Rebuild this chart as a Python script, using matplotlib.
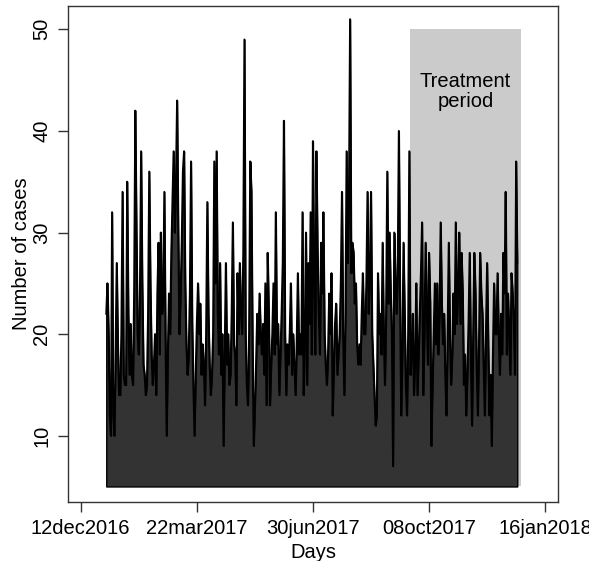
import numpy as np
import matplotlib
matplotlib.use("Agg")
import matplotlib.pyplot as plt
import matplotlib.dates as mdates

plt.rcParams['font.family'] = ['Liberation Sans', 'DejaVu Sans']

# Daily case counts, 03jan2017 onwards
start_date = "2017-01-03"
cases = [
    22, 25, 20, 12, 10, 32, 12, 10, 18,
    27, 19, 14, 14, 20, 34, 16, 15, 15,
    35, 22, 16, 21, 16, 15, 24, 42,
    30, 20, 18, 24, 38, 25, 17, 16,
    14, 15, 22, 36, 25, 18, 15, 17, 20,
    14, 24, 29, 18, 30, 22, 23, 34, 20,
    10, 18, 24, 20, 28, 33, 38, 30, 35,
    43, 30, 20, 24, 29, 36, 38, 25,
    19, 16, 18, 24, 37, 21, 15, 10, 16,
    21, 25, 20, 23, 16, 19, 17, 13, 20,
    33, 22, 17, 14, 16, 20, 37, 25,
    38, 22, 18, 27, 16, 20, 9, 18, 27,
    17, 20, 15, 16, 22, 31, 19, 18,
    13, 26, 20, 27, 22, 20, 28, 49, 20,
    15, 13, 20, 37, 34, 19, 9, 13,
    17, 22, 19, 24, 20, 18, 21, 16, 25,
    13, 28, 22, 13, 17, 20, 25, 18, 32,
    19, 21, 14, 18, 22, 27, 41, 20,
    14, 19, 17, 20, 25, 16, 20, 17, 14,
    19, 26, 18, 20, 18, 32, 14, 20, 30,
    15, 27, 21, 32, 18, 39, 25, 18,
    38, 28, 22, 18, 29, 24, 32, 20, 17,
    15, 18, 24, 20, 26, 12, 17, 21,
    23, 16, 18, 20, 25, 34, 20, 14, 22,
    38, 27, 33, 51, 26, 29, 28, 23, 25,
    19, 17, 19, 17, 22, 26, 20, 20,
    25, 34, 22, 26, 34, 20, 17, 14, 11,
    12, 26, 20, 22, 18, 29, 20, 15, 22,
    36, 23, 30, 24, 20, 7, 30, 26,
    22, 26, 40, 24, 12, 18, 29, 22, 15,
    12, 20, 38, 16, 18, 22, 14, 18, 25,
    14, 18, 22, 26, 31, 14, 20, 29,
    23, 17, 28, 23, 9, 15, 20, 25, 19,
    25, 18, 22, 31, 23, 19, 22, 16,
    12, 20, 29, 20, 15, 18, 24, 20, 31,
    21, 25, 30, 21, 28, 24, 15, 18, 12,
    16, 21, 28, 18, 11, 20, 28, 24,
    17, 12, 19, 28, 24, 22, 17, 12, 20,
    27, 19, 12, 16, 9, 18, 25, 20,
    20, 26, 20, 16, 22, 18, 28, 24, 34,
    18, 24, 20, 16, 26, 24, 21, 16, 37, 27,
]

base_value = 5
treat_start, treat_end = "2017-09-22", "2017-12-26"
treat_top = 50
tick_dates = ["2016-12-12", "2017-03-22", "2017-06-30", "2017-10-08", "2018-01-16"]
y_ticks = [10, 20, 30, 40, 50]

days = np.arange(np.datetime64(start_date), np.datetime64(start_date) + len(cases))
x = mdates.date2num(days)
y = np.array(cases, dtype=float)

fig = plt.figure(figsize=(5.89, 5.61), dpi=100)
ax = fig.add_axes([68/589, 1-502/561, (558-68)/589, (502-6)/561])

# treatment window shading
t0 = mdates.date2num(np.datetime64(treat_start))
t1 = mdates.date2num(np.datetime64(treat_end))
ax.fill_between([t0, t1], base_value, treat_top, color="#cbcbcb", lw=0, zorder=1)

# daily counts as an area above the base line
ax.fill_between(x, base_value, y, facecolor="#333333", edgecolor="black", lw=1.0, zorder=2)
ax.plot(x, y, color="black", lw=1.4, zorder=3)

ax.text((t0 + t1) / 2, 44.9, "Treatment", ha="center", va="center", fontsize=14.5, zorder=4)
ax.text((t0 + t1) / 2, 42.9, "period", ha="center", va="center", fontsize=14.5, zorder=4)

ref_day = mdates.date2num(np.datetime64("2016-12-12"))
ax.set_xlim(ref_day - 10.94, ref_day + 411.1)
ax.set_ylim(3.47, 52.3)

tick_nums = mdates.date2num(np.array(tick_dates, dtype="datetime64[D]"))
ax.set_xticks(tick_nums)
ax.set_xticklabels([mdates.num2date(v).strftime("%d%b%Y").lower() for v in tick_nums])
ax.set_yticks(y_ticks)
ax.set_yticklabels([str(v) for v in y_ticks], rotation=90, va="center")

for s in ax.spines.values():
    s.set_color("#333333")
    s.set_linewidth(1.0)
ax.tick_params(direction="out", length=7, width=1.0, color="#333333", labelsize=14.5, pad=5)

ax.set_xlabel("Days", fontsize=14.5, labelpad=4)
ax.set_ylabel("Number of cases", fontsize=14.5, labelpad=1)

fig.savefig("out.png", dpi=100)
